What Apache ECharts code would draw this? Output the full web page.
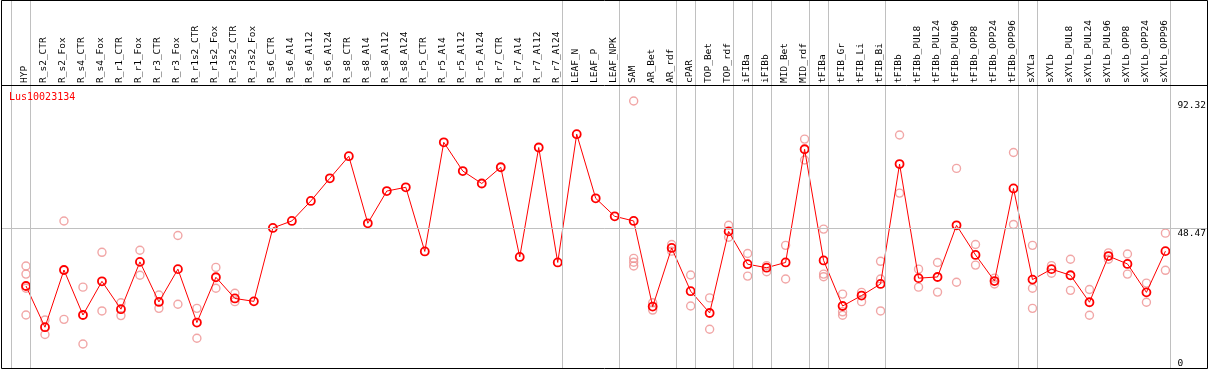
<!DOCTYPE html>
<html>
<head>
<meta charset="utf-8">
<script src="https://cdn.jsdelivr.net/npm/echarts@6/dist/echarts.min.js"></script>
<style>
html,body{margin:0;padding:0;background:#fff;}
#chart{width:1209px;height:370px;}
</style>
</head>
<body>
<div id="chart"></div>
<script>
const geneId = 'Lus10023134';
const categories = ['HYP','R_s2_CTR','R_s2_Fox','R_s4_CTR','R_s4_Fox','R_r1_CTR','R_r1_Fox','R_r3_CTR','R_r3_Fox','R_r1s2_CTR','R_r1s2_Fox','R_r3s2_CTR','R_r3s2_Fox','R_s6_CTR','R_s6_Al4','R_s6_Al12','R_s6_Al24','R_s8_CTR','R_s8_Al4','R_s8_Al12','R_s8_Al24','R_r5_CTR','R_r5_Al4','R_r5_Al12','R_r5_Al24','R_r7_CTR','R_r7_Al4','R_r7_Al12','R_r7_Al24','LEAF_N','LEAF_P','LEAF_NPK','SAM','AR_Bet','AR_rdf','cPAR','TOP_Bet','TOP_rdf','iFIBa','iFIBb','MID_Bet','MID_rdf','tFIBa','tFIB_Gr','tFIB_Li','tFIB_Bi','tFIBb','tFIBb_PUL8','tFIBb_PUL24','tFIBb_PUL96','tFIBb_OPP8','tFIBb_OPP24','tFIBb_OPP96','sXYLa','sXYLb','sXYLb_PUL8','sXYLb_PUL24','sXYLb_PUL96','sXYLb_OPP8','sXYLb_OPP24','sXYLb_OPP96'];
const means = [28.6,14.4,34.1,18.6,30.2,20.6,36.9,23.1,34.4,16.0,31.6,24.3,23.3,48.6,51.0,57.9,65.7,73.3,50.2,61.3,62.6,40.5,78.1,68.2,63.9,69.5,38.6,76.3,36.7,80.9,58.8,52.6,51.0,21.5,41.7,26.8,19.3,47.4,36.1,34.9,36.7,75.7,37.4,21.7,25.3,29.3,70.6,31.3,31.7,49.5,39.3,30.3,62.2,30.8,34.4,32.3,23.0,38.9,36.2,26.4,40.6];
const replicates = [
  [35.5,32.7,27.8,18.6],[16.9,11.9],[51.0,17.1],[28.2,8.6],[40.2,20.0],[22.8,18.4],[40.9,32.3],[25.5,20.9],[46.0,22.3],[20.9,10.6],[35.0,27.8],[26.1,23.2],
  [],[],[],[],[],[],[],[],[],[],[],[],[],[],[],[],[],[],[],[],
  [92.32,38.1,36.8,35.5],[22.8,20.3],[42.9,40.6],[32.4,21.7],[24.5,13.7],[49.5,45.4],[39.8,32.0],[35.6,33.5],[42.6,31.0],[79.2,72.0],[48.2,32.7,31.8],[25.8,19.7,18.5],[26.4,23.2],[37.1,31.0,20.0],
  [80.6,60.6],[34.4,28.2],[36.7,26.5],[69.1,29.9],[42.9,35.8],[31.3,29.3],[74.6,49.8],
  [42.6,27.8,20.9],[35.6,33.0],[37.8,27.1],[27.4,18.5],[40.0,37.8],[39.6,32.7],[29.6,23.0],[46.8,34.0]
];
const groupEnds = [-1,0,28,31,34,35,37,38,39,41,42,45,52,53,60];
const yTickValues = [0,48.47,92.32];
const refValue = 48.47;

const FONT = '"DejaVu Sans Mono", "Liberation Mono", monospace';
const STEP = 19, FIRST = 26, W = 1209, H = 370;
const PX_PER_UNIT = (369 - 228.3) / 48.47;

const repData = [];
replicates.forEach((arr, i) => arr.forEach(v => repData.push([i, v])));

const chart = echarts.init(document.getElementById('chart'), null, {renderer: 'canvas'});
chart.setOption({
  animation: false,
  backgroundColor: '#fff',
  title: {
    text: geneId, left: 9, top: 92, padding: 0,
    textStyle: {color: '#ff0000', fontSize: 10, fontWeight: 'normal', fontFamily: FONT}
  },
  grid: [
    {left: 1, right: 1, top: 0, bottom: 1},
    {left: FIRST - STEP / 2 - 1, width: STEP * categories.length, top: 85, bottom: 1}
  ],
  xAxis: [
    {type: 'value', gridIndex: 0, min: (1 - FIRST) / STEP, max: (W - 1 - FIRST) / STEP, show: false},
    {type: 'category', gridIndex: 1, data: categories, position: 'top',
     axisLine: {show: false}, axisTick: {show: false}, splitLine: {show: false},
     axisLabel: {interval: 0, rotate: 90, margin: 2, fontSize: 9.5, color: '#000', fontFamily: FONT}}
  ],
  yAxis: [
    {type: 'value', gridIndex: 0, position: 'right', min: 0, max: 369 / PX_PER_UNIT,
     axisLine: {show: false}, axisTick: {show: false}, splitLine: {show: false},
     axisLabel: {customValues: yTickValues, inside: true, align: 'left', margin: 30,
       verticalAlign: 'top', verticalAlignMinLabel: 'bottom',
       fontSize: 9.5, color: '#000', fontFamily: FONT,
       formatter: v => String(v)}},
    {type: 'value', gridIndex: 1, show: false}
  ],
  graphic: [
    {type: 'rect', shape: {x: 1.5, y: 0.5, width: 1206, height: 368}, style: {fill: 'none', stroke: '#000', lineWidth: 1}, z: 100, silent: true},
    {type: 'line', shape: {x1: 1, y1: 85.5, x2: 1208, y2: 85.5}, style: {stroke: '#000', lineWidth: 1}, z: 100, silent: true}
  ],
  series: [
    {type: 'line', xAxisIndex: 0, yAxisIndex: 0, data: [], silent: true,
     markLine: {silent: true, symbol: 'none', animation: false, label: {show: false},
       lineStyle: {color: '#c0c0c0', width: 1, type: 'solid'},
       emphasis: {disabled: true},
       data: groupEnds.map(g => ({xAxis: g + 4.5 / STEP})).concat([{yAxis: refValue}])}},
    {type: 'scatter', xAxisIndex: 0, yAxisIndex: 0, data: repData, symbol: 'circle', symbolSize: 8,
     itemStyle: {color: 'rgba(255,255,255,0)', borderColor: '#ee9090', borderWidth: 1.4}, z: 3, silent: true},
    {type: 'line', xAxisIndex: 0, yAxisIndex: 0, data: means.map((v, i) => [i, v]),
     symbol: 'circle', symbolSize: 8, showAllSymbol: true,
     lineStyle: {color: '#ff0000', width: 1},
     itemStyle: {color: 'rgba(255,255,255,0)', borderColor: '#ff0000', borderWidth: 1.8}, z: 4, silent: true}
  ]
});
</script>
</body>
</html>
